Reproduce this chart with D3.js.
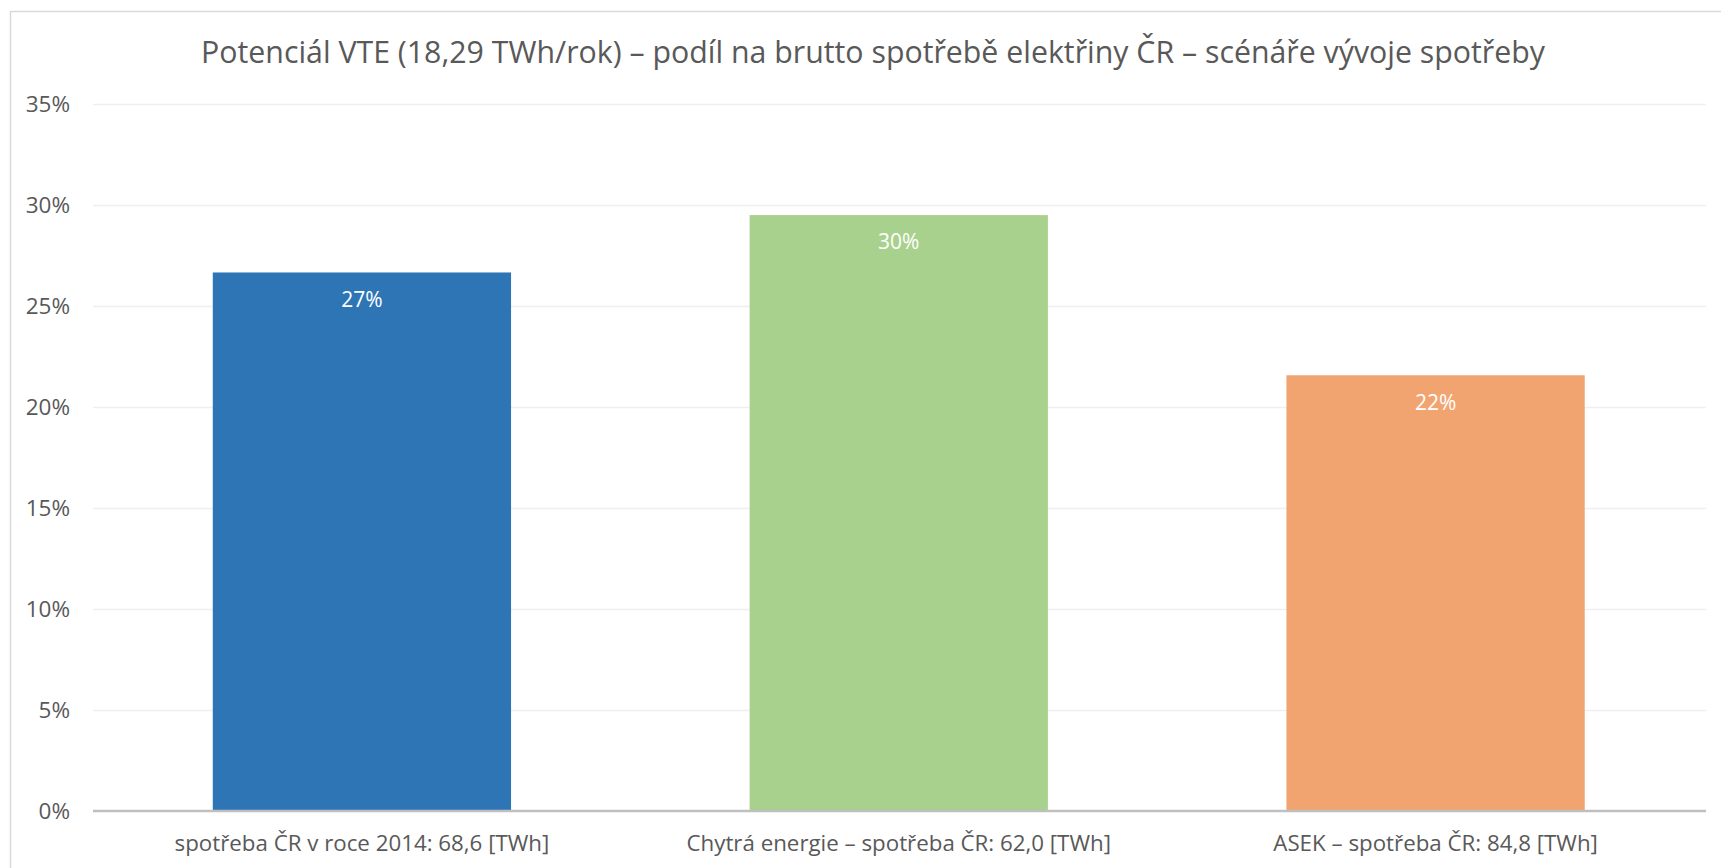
<!DOCTYPE html>
<html><head><meta charset="utf-8">
<script src="https://cdn.jsdelivr.net/npm/d3@7"></script>
<style>html,body{margin:0;padding:0;background:#fff;overflow:hidden}</style>
</head><body>
<svg id="c" width="1721" height="868"></svg>
<script>
const titleText = "Potenciál VTE (18,29 TWh/rok) – podíl na brutto spotřebě elektřiny ČR – scénáře vývoje spotřeby";
const categories = ["spotřeba ČR v roce 2014: 68,6 [TWh]", "Chytrá energie – spotřeba ČR: 62,0 [TWh]", "ASEK – spotřeba ČR: 84,8 [TWh]"];
const values = [0.2666, 0.2950, 0.2157];
const barLabels = ["27%", "30%", "22%"];
const colors = ["#2e75b6", "#a9d18e", "#f1a46f"];
const yTicks = [0, 0.05, 0.10, 0.15, 0.20, 0.25, 0.30, 0.35];

const svg = d3.select("#c");
const font = "'Open Sans', sans-serif";
const gray = "#595959";

svg.append("rect").attr("x", 10.5).attr("y", 11.5).attr("width", 1740).attr("height", 900)
  .attr("fill", "#fff").attr("stroke", "#d9d9d9").attr("stroke-width", 1.5);

const x = d3.scaleBand().domain(categories).range([93.5, 1704]).paddingInner(0.4444).paddingOuter(0.2222);
const y = d3.scaleLinear().domain([0, 0.35]).range([811, 104]);

// gridlines
svg.append("g").selectAll("line").data(yTicks.filter(d => d > 0)).join("line")
  .attr("x1", 93).attr("x2", 1706)
  .attr("y1", d => Math.round(y(d)) + 0.5).attr("y2", d => Math.round(y(d)) + 0.5)
  .attr("stroke", "#efefef").attr("stroke-width", 1.5);

// y axis labels
const yAxis = d3.axisLeft(y).tickValues(yTicks).tickFormat(d3.format(".0%")).tickSize(0).tickPadding(0);
const gy = svg.append("g").attr("transform", "translate(70,0)").call(yAxis);
gy.select(".domain").remove();
gy.selectAll("text").attr("font-family", font).attr("font-size", 22.5).attr("fill", gray);

// bars
svg.append("g").selectAll("rect").data(values).join("rect")
  .attr("x", (d, i) => x(categories[i]))
  .attr("width", x.bandwidth())
  .attr("y", d => y(d))
  .attr("height", d => y(0) - y(d))
  .attr("fill", (d, i) => colors[i]);

// bar labels
svg.append("g").selectAll("text").data(values).join("text")
  .attr("x", (d, i) => x(categories[i]) + x.bandwidth() / 2)
  .attr("y", d => y(d) + 27)
  .attr("dy", "0.35em")
  .attr("text-anchor", "middle")
  .attr("font-family", font).attr("font-size", 21).attr("fill", "#fff")
  .text((d, i) => barLabels[i]);

// x axis
const xAxis = d3.axisBottom(x).tickSize(0).tickPadding(24);
const gx = svg.append("g").attr("transform", "translate(0,811)").call(xAxis);
gx.select(".domain").attr("stroke", "#bfbfbf").attr("stroke-width", 2.5).attr("d", "M93,0H1706");
gx.selectAll("text").attr("font-family", font).attr("font-size", 22.3).attr("fill", gray);

// title
svg.append("text").attr("x", 873).attr("y", 52).attr("dy", "0.35em")
  .attr("text-anchor", "middle").attr("font-family", font).attr("font-size", 30.3).attr("fill", gray)
  .text(titleText);
</script>
</body></html>
